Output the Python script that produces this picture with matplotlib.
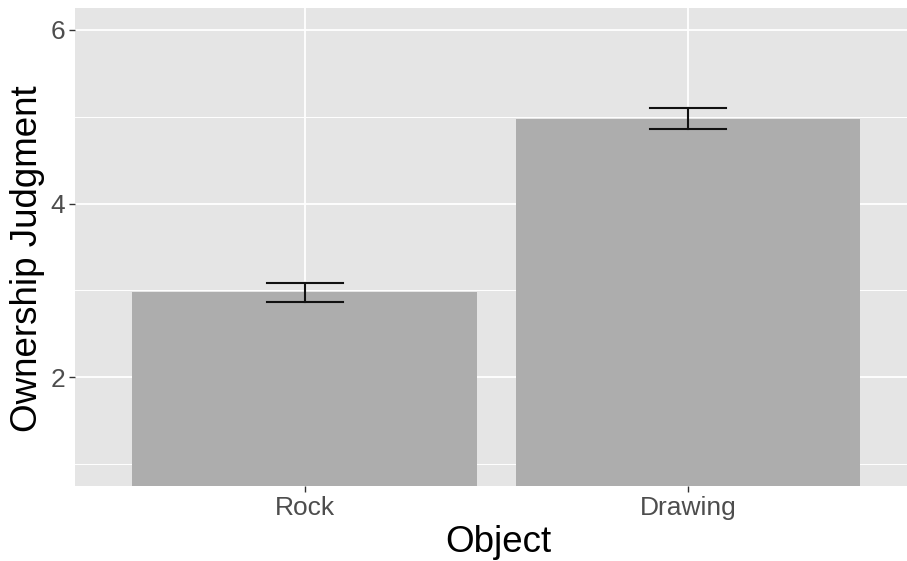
import matplotlib
matplotlib.use("Agg")
import matplotlib.pyplot as plt
import numpy as np

objects = ["Rock", "Drawing"]
means = [2.98, 4.97]
err_low = [2.87, 4.86]
err_high = [3.09, 5.10]

plt.rcParams["font.family"] = ["Liberation Sans", "DejaVu Sans"]

fig = plt.figure(figsize=(9.07, 5.61), dpi=100)
ax = fig.add_axes([75 / 907, 1 - 486 / 561, 832 / 907, 478 / 561])
ax.set_facecolor("#e5e5e5")

x = np.arange(1, len(objects) + 1)
ax.bar(x, means, width=0.9, color="#adadad", zorder=3)
for xi, lo, hi in zip(x, err_low, err_high):
    ax.plot([xi, xi], [lo, hi], color="#111111", lw=1.5, zorder=4)
    ax.plot([xi - 0.1, xi + 0.1], [lo, lo], color="#111111", lw=1.5, zorder=4)
    ax.plot([xi - 0.1, xi + 0.1], [hi, hi], color="#111111", lw=1.5, zorder=4)

# right side of the panel is cut off in the original
ax.set_xlim(0.4, 2.572)
ax.set_ylim(0.75, 6.25)
ax.set_xticks(x)
ax.set_xticklabels(objects)
ax.set_yticks([2, 4, 6])
ax.set_yticks([1, 3, 5], minor=True)
ax.grid(True, which="major", color="white", lw=1.3, zorder=1)
ax.grid(True, which="minor", axis="y", color="white", lw=0.7, zorder=1)
ax.tick_params(which="major", length=4, width=1, color="#333333",
               labelsize=19, labelcolor="#4d4d4d", pad=3)
ax.tick_params(which="minor", length=0)
for s in ax.spines.values():
    s.set_visible(False)

ax.set_xlabel("Object", fontsize=26.5)
ax.set_ylabel("Ownership Judgment", fontsize=26.5)
ax.xaxis.set_label_coords(0.509, -0.082)
ax.yaxis.set_label_coords(-0.036, 0.475)

fig.savefig("out.png", dpi=100)
